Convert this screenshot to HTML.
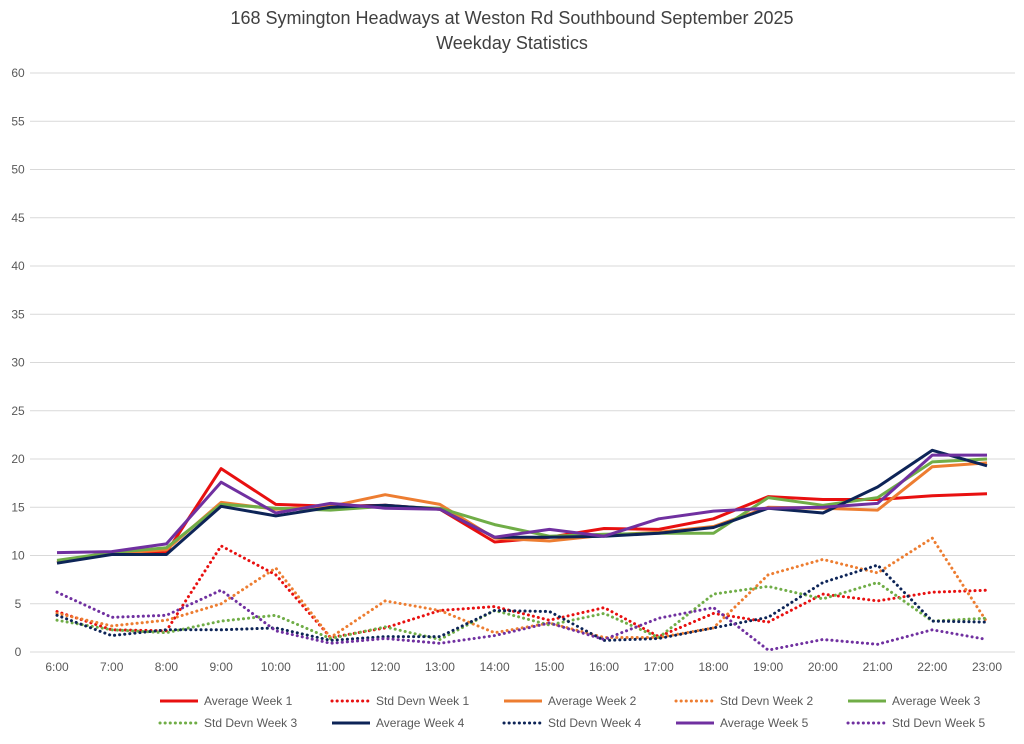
<!DOCTYPE html><html><head><meta charset="utf-8"><style>body{margin:0;background:#fff;font-family:"Liberation Sans",sans-serif}</style></head><body>
<svg id="c" width="1024" height="739" font-family="Liberation Sans, sans-serif">
<text x="512" y="24" text-anchor="middle" font-size="18" fill="#404040">168 Symington Headways at Weston Rd Southbound September 2025</text>
<text x="512" y="49" text-anchor="middle" font-size="18" fill="#404040">Weekday Statistics</text>
<g id="grid"></g><g id="series"></g><g id="legend"></g></svg>
<script>
const categories=["6:00","7:00","8:00","9:00","10:00","11:00","12:00","13:00","14:00","15:00","16:00","17:00","18:00","19:00","20:00","21:00","22:00","23:00"];
const yTicks=[0,5,10,15,20,25,30,35,40,45,50,55,60];
const avg1=[9.3,10.2,10.3,19,15.3,15.1,15.2,14.8,11.4,11.9,12.8,12.7,13.8,16.1,15.8,15.8,16.2,16.4];
const avg2=[9.3,10.2,10.6,15.5,14.8,15.1,16.3,15.3,11.8,11.5,12.1,12.4,13,15,14.9,14.7,19.2,19.6];
const avg3=[9.5,10.3,10.8,15.3,14.9,14.7,15.1,14.9,13.2,12,12.2,12.3,12.3,16,15.2,16,19.7,20];
const avg4=[9.2,10.1,10.1,15.1,14.1,15,15.2,14.8,11.9,11.9,12,12.3,12.9,14.9,14.4,17.1,20.9,19.3];
const avg5=[10.3,10.4,11.2,17.6,14.4,15.4,14.9,14.8,11.9,12.7,12,13.8,14.6,14.9,15,15.4,20.4,20.4];
const sd1=[4.2,2.3,2.2,11,8,1.5,2.5,4.3,4.7,3.3,4.6,1.6,4,3.1,6,5.3,6.2,6.4];
const sd2=[4,2.7,3.3,5,8.7,1.5,5.3,4.3,2,3,1.5,1.5,2.5,8,9.6,8.2,11.8,3.1];
const sd3=[3.3,2.3,2,3.2,3.8,1.4,2.6,1.3,4.3,2.8,4,1.5,6,6.8,5.5,7.2,3.2,3.5];
const sd4=[3.8,1.7,2.3,2.3,2.5,1.2,1.6,1.6,4.3,4.2,1.2,1.4,2.5,3.6,7.2,9,3.2,3.1];
const sd5=[6.2,3.6,3.8,6.4,2.2,0.9,1.4,0.9,1.7,3,1.3,3.5,4.6,0.2,1.3,0.8,2.3,1.3];
const NS="http://www.w3.org/2000/svg";
const X=i=>57+i*(930/17), Y=v=>652-v*(579/60);
function mk(t,a,p){const e=document.createElementNS(NS,t);for(const k in a)e.setAttribute(k,a[k]);p.appendChild(e);return e;}
const g=document.getElementById('grid');
yTicks.forEach(v=>{const l=mk('line',{x1:30,x2:1015,y1:Y(v),y2:Y(v),stroke:'#d9d9d9','stroke-width':1},g);


const t=mk('text',{x:18,y:Y(v)+4,'text-anchor':'middle','font-size':12,fill:'#595959'},g);t.textContent=v;

});
categories.forEach((c,i)=>{const t=mk('text',{x:X(i),y:671,'text-anchor':'middle','font-size':12,fill:'#595959'},g);t.textContent=c;

});
const series=[["Average Week 1",avg1,"#e81010",0],["Std Devn Week 1",sd1,"#e81010",1],["Average Week 2",avg2,"#ed7d31",0],["Std Devn Week 2",sd2,"#ed7d31",1],["Average Week 3",avg3,"#70ad47",0],["Std Devn Week 3",sd3,"#70ad47",1],["Average Week 4",avg4,"#0d2457",0],["Std Devn Week 4",sd4,"#0d2457",1],["Average Week 5",avg5,"#7030a0",0],["Std Devn Week 5",sd5,"#7030a0",1]];
const sg=document.getElementById('series'),lg=document.getElementById('legend');
series.forEach((s,k)=>{const d=s[1].map((v,i)=>(i?'L':'M')+X(i).toFixed(1)+','+Y(v).toFixed(1)).join('');
const a={d:d,fill:'none',stroke:s[2],'stroke-width':3,'stroke-linejoin':'round'};if(s[3]){a['stroke-dasharray']='0.1 5';a['stroke-linecap']='round';}
const p=mk('path',a,sg);


const row=k<5?0:1,col=k%5,lx=160+col*172,ly=701+row*22;
const la=Object.assign({},a,{d:'M'+lx+','+ly+'h38'});
const ll=mk('path',la,lg);


const t=mk('text',{x:lx+44,y:ly+4,'font-size':12,fill:'#595959'},lg);t.textContent=s[0];

});
</script></body></html>
